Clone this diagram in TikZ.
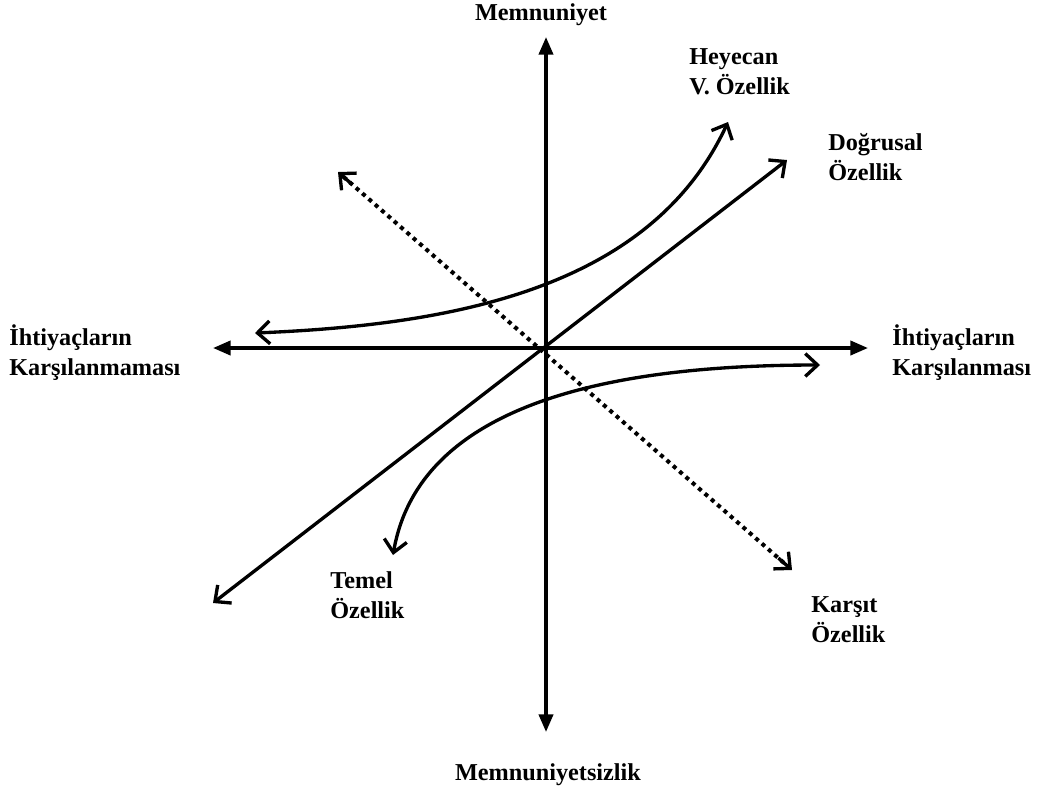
\documentclass[tikz,border=0pt]{standalone}
\usepackage{fontspec}
\setmainfont{Liberation Serif}
\usepackage{tikz}
\usetikzlibrary{arrows.meta,positioning,calc}

\begin{document}
\begin{tikzpicture}[
  x=0.02cm,
  y=-0.02cm,
  barb/.tip={Straight Barb[length=7pt,width=13pt,line width=1.9pt]},
  axis/.style={draw=black, line width=2pt, {Triangle[length=10pt,width=8pt]}-{Triangle[length=10pt,width=8pt]}},
  curve/.style={draw=black, line width=1.9pt, {barb}-{barb}},
  tipline/.style={draw=black, line width=1.9pt, -{barb}},
  opposite/.style={draw=black, line width=2.3pt, dash pattern=on 2.3pt off 2.5pt},
  lab/.style={font=\fontsize{13.8}{17}\selectfont\bfseries, align=left, inner sep=0pt},
  axlab/.style={font=\fontsize{13.8}{17}\selectfont\bfseries, inner sep=0pt}
]
\useasboundingbox (0,0) rectangle (1047,792);

% Axis end points.
\coordinate (xl) at (213,348);
\coordinate (xr) at (868,348);
\coordinate (yt) at (546,37);
\coordinate (yb) at (546,732);

\draw[axis] (xl) -- (xr);
\draw[axis] (yb) -- (yt);

% Axis labels.
\node[axlab] (sat) at (541,15) {Memnuniyet};
\node[axlab] (dissat) at (548,775) {Memnuniyetsizlik};
\node[lab, anchor=west] (unmet) at (9,353) {İhtiyaçların\\Karşılanmaması};
\node[lab, anchor=west] (met) at (892,353) {İhtiyaçların\\Karşılanması};

% Linear (one-dimensional) quality.
\coordinate (lin1) at (213,603);
\coordinate (lin2) at (787,160);
\draw[curve] (lin1) -- (lin2);
\node[lab, anchor=west] (linlab) at (828,157) {Doğrusal\\Özellik};

% Attractive quality.
\coordinate (att1) at (255,333);
\coordinate (att2) at (728,122);
\draw[curve] (att1) .. controls (450,325) and (650,290) .. (att2);
\node[lab, anchor=west] (attlab) at (689,72) {Heyecan\\V. Özellik};

% Must-be quality.
\coordinate (must1) at (820,365);
\coordinate (must2) at (393,555);
\draw[curve] (must1) .. controls (620,365) and (420,400) .. (must2);
\node[lab, anchor=west] (mustlab) at (330,595) {Temel\\Özellik};

% Reverse quality: dotted body, solid tips.
\coordinate (rev1) at (338,172);
\coordinate (rev2) at (792,570);
\draw[opposite, shorten <=4pt, shorten >=4pt] (rev1) -- (rev2);
\draw[tipline] ($(rev1)!0.03!(rev2)$) -- (rev1);
\draw[tipline] ($(rev2)!0.03!(rev1)$) -- (rev2);
\node[lab, anchor=west] (revlab) at (811,620) {Karşıt\\Özellik};
\end{tikzpicture}
\end{document}
